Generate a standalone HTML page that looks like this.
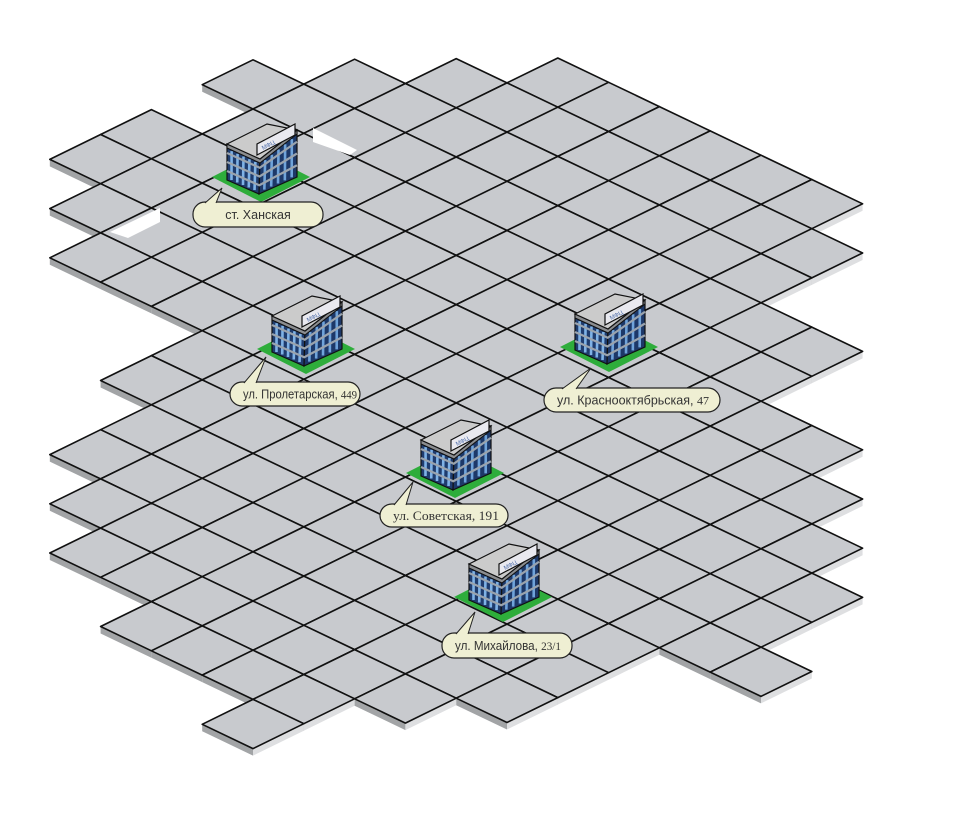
<!DOCTYPE html>
<html><head><meta charset="utf-8">
<style>
html,body{margin:0;padding:0;background:#fff;}
svg{display:block;}
.lbl{font-family:"Liberation Sans",sans-serif;font-size:12.5px;fill:#333;}
.ser{font-family:"Liberation Serif",serif;}
</style></head>
<body>
<svg id="s" width="960" height="823" viewBox="0 0 960 823" xmlns="http://www.w3.org/2000/svg">
<g id="tiles"></g>
<g id="holes" fill="#fff">
<polygon points="313,128 357,150 350,155 313,142"/>
<polygon points="110,232 160,208 160,222 128,238"/>
</g>
<g id="bld"></g>
<g id="labels"></g>
</svg>
<script>
(function(){
var NS="http://www.w3.org/2000/svg";
function el(n,at,p){var e=document.createElementNS(NS,n);for(var k in at)e.setAttribute(k,at[k]);if(p)p.appendChild(e);return e;}
var poly=[[215,80],[265,55],[315,80],[365,55],[412,78],[460,52],[510,77],[560,52],[660,100],[640,112],[710,125],[760,150],[740,162],[808,173],[858,197],[858,247],[808,272],[808,320],[857,343],[807,368],[807,420],[853,445],[853,600],[805,620],[800,667],[748,691],[650,643],[600,668],[550,695],[502,718],[453,697],[400,730],[350,700],[300,724],[253,748],[204,724],[250,700],[198,675],[150,651],[100,627],[150,603],[100,578],[50,553],[105,527],[55,502],[105,478],[55,453],[105,429],[155,405],[107,380],[157,355],[207,330],[157,305],[107,280],[58,255],[112,231],[62,206],[112,182],[63,157],[163,106],[213,130],[240,118]];
function inside(x,y){var c=false;for(var i=0,j=poly.length-1;i<poly.length;j=i++){var xi=poly[i][0],yi=poly[i][1],xj=poly[j][0],yj=poly[j][1];if(((yi>y)!=(yj>y))&&(x<(xj-xi)*(y-yi)/(yj-yi)+xi))c=!c;}return c;}
var a=[50.8,24.3],b=[50.8,-24.9],C0=[253,724];
var list=[];
for(var i=-30;i<=30;i++)for(var j=-30;j<=30;j++){
 var cx=C0[0]+i*a[0]+j*b[0],cy=C0[1]+i*a[1]+j*b[1];
 if(cx<20||cx>900||cy<30||cy>780)continue;
 if(inside(cx,cy)&&inside(cx-22,cy)&&inside(cx+22,cy)&&inside(cx,cy-10)&&inside(cx,cy+10))list.push([cx,cy]);
}
list.sort(function(p,q){return p[1]-q[1];});
var tg=document.getElementById('tiles');var d=7;
list.forEach(function(c){
 var tx=c[0]-(a[0]-b[0])/2,ty=c[1]-(a[1]-b[1])/2;
 var T=[tx,ty],R=[tx+a[0],ty+a[1]],L=[tx-b[0],ty-b[1]],B=[tx+a[0]-b[0],ty+a[1]-b[1]];
 function pt(ps){return ps.map(function(p){return p[0].toFixed(1)+','+p[1].toFixed(1);}).join(' ');}
 el('polygon',{points:pt([L,B,[B[0],B[1]+d],[L[0],L[1]+d]]),fill:'#a2a4a6'},tg);
 el('polygon',{points:pt([B,R,[R[0],R[1]+d],[B[0],B[1]+d]]),fill:'#dedfe1'},tg);
 el('polygon',{points:pt([L,T,R,B]),fill:'#c8cace',stroke:'#111','stroke-width':1.6,'stroke-linejoin':'round'},tg);
});
var bg=document.getElementById('bld');
var G=[[261,177],[306,349],[609,347],[455,473],[503,597]];
function lerp(p,q,t){return [p[0]+(q[0]-p[0])*t,p[1]+(q[1]-p[1])*t];}
function P(ps){return ps.map(function(p){return p[0]+','+p[1];}).join(' ');}
G.forEach(function(g){
 var gr=el('g',{transform:'translate('+g[0]+','+g[1]+')'},bg);
 el('polygon',{points:'-49,0 0,-25 49,0 0,25',fill:'#2ead3b'},gr);
 var L=[-34,3],F=[-2,17],R=[36,0],Lt=[-34,-33],Ft=[-1,-18],Rt=[36,-47],Bk=[6,-53];
 el('polygon',{points:P([L,F,Ft,Lt]),fill:'#1f3c6e',stroke:'#111','stroke-width':1.2},gr);
 el('polygon',{points:P([F,R,Rt,Ft]),fill:'#1d3868',stroke:'#111','stroke-width':1.2},gr);
 [0.14,0.32,0.5,0.68,0.86].forEach(function(t){
  var p=lerp(L,F,t),q=lerp(Lt,Ft,t);el('line',{x1:p[0],y1:p[1]-2,x2:q[0],y2:q[1]+5,stroke:'#7fb2e6','stroke-width':2.6},gr);
  var p2=lerp(F,R,t),q2=lerp(Ft,Rt,t);el('line',{x1:p2[0],y1:p2[1]-2,x2:q2[0],y2:q2[1]+5,stroke:'#6fa3da','stroke-width':2.6},gr);
 });
 [0.25,0.5,0.75].forEach(function(t){
  var p=lerp(L,Lt,t),q=lerp(F,Ft,t),r=lerp(R,Rt,t);
  el('polyline',{points:P([p,q,r]),fill:'none',stroke:'#9aa3ad','stroke-width':2.2},gr);
 });
 el('polygon',{points:P([Lt,Ft,Rt,[36,-43],[-1,-14],[-34,-29]]),fill:'#8b8d90',stroke:'#111','stroke-width':1},gr);
 el('polygon',{points:P([Lt,Bk,Rt,Ft]),fill:'#cbcbcb',stroke:'#111','stroke-width':1.2},gr);
 el('polygon',{points:'-4,-22 34,-42 34,-53 -4,-33',fill:'#e9e9ef',stroke:'#111','stroke-width':1.2},gr);
 var t=el('text',{x:0,y:0,'font-family':'Liberation Sans, sans-serif','font-size':'6','fill':'#4a6aa8',transform:'translate(2,-27) rotate(-27)'},gr);t.textContent='МФЦ';
});
var lg=document.getElementById('labels');
var labs=[
 {x:193,y:202,w:130,h:25,tip:[222,188],b1:205,b2:216,parts:[['ст. Ханская','']],cx:true},
 {x:230,y:382,w:130,h:24,tip:[266,357],b1:244,b2:256,parts:[['ул. Пролетарская, ',''],['449','ser']],tl:114},
 {x:544,y:388,w:176,h:24,tip:[591,368],b1:562,b2:576,parts:[['ул. Краснооктябрьская, ',''],['47','ser']],tl:152},
 {x:380,y:504,w:128,h:23,tip:[413,482],b1:394,b2:406,parts:[['ул. Советская, 191','ser']],tl:106},
 {x:442,y:633,w:130,h:25,tip:[475,612],b1:456,b2:468,parts:[['ул. Михайлова, ',''],['23/1','ser']],tl:106}
];
labs.forEach(function(l){
 el('rect',{x:l.x,y:l.y,width:l.w,height:l.h,rx:12,ry:12,fill:'#efefd3',stroke:'#222','stroke-width':1.2},lg);
 el('polygon',{points:l.b1+','+(l.y+1.5)+' '+l.tip[0]+','+l.tip[1]+' '+l.b2+','+(l.y+1.5),fill:'#efefd3',stroke:'none'},lg);
 el('polyline',{points:l.b1+','+(l.y+1)+' '+l.tip[0]+','+l.tip[1]+' '+l.b2+','+(l.y+1),fill:'none',stroke:'#222','stroke-width':1},lg);
 var at={x:l.cx?l.x+l.w/2:l.x+13,y:l.y+l.h/2+4.5,'class':'lbl','text-anchor':l.cx?'middle':'start'};
 if(l.tl){at.textLength=l.tl;at.lengthAdjust='spacingAndGlyphs';}
 var t=el('text',at,lg);
 l.parts.forEach(function(p){var s=el('tspan',{},t);if(p[1]){s.setAttribute('class','ser');if(p[0].length<6)s.setAttribute('font-size','12');}s.textContent=p[0];});
});
})();
</script>
</body></html>
